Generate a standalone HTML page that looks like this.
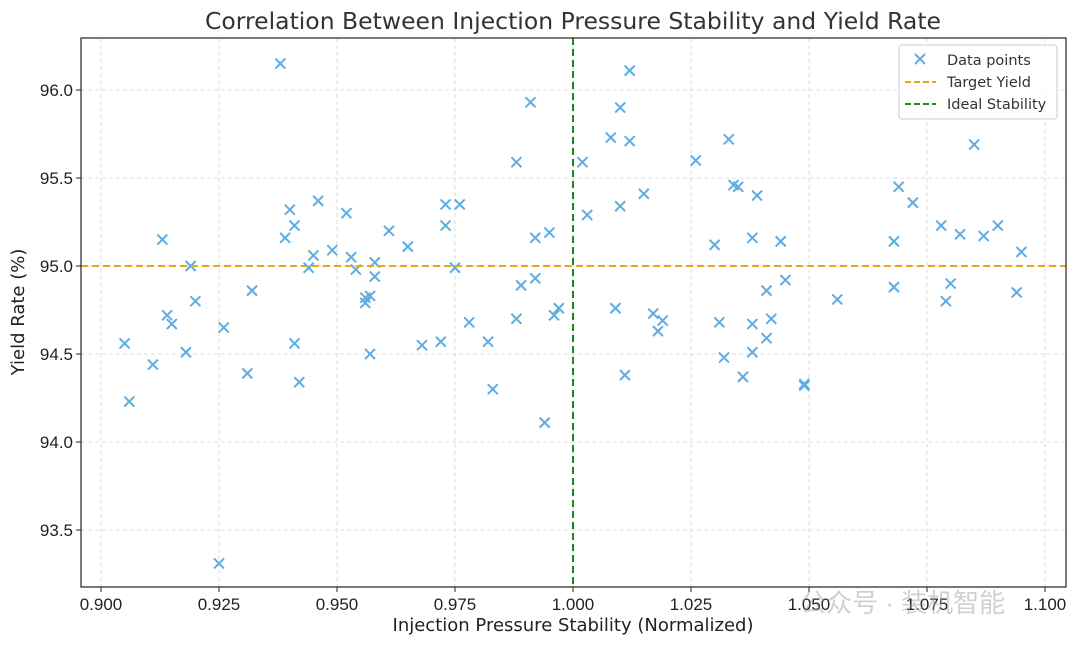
<!DOCTYPE html>
<html><head><meta charset="utf-8"><style>
body{margin:0;background:#fff;}
svg{display:block;font-family:"Liberation Sans","DejaVu Sans","Noto Sans CJK SC",sans-serif;}
.dv{font-family:"DejaVu Sans","Noto Sans CJK SC",sans-serif;}
</style></head><body>
<svg id="chart" width="1080" height="646" viewBox="0 0 1080 646">
<rect x="0" y="0" width="1080" height="646" fill="#fff"/>
<text class="dv" x="573" y="29" text-anchor="middle" font-size="23.5" fill="#333">Correlation Between Injection Pressure Stability and Yield Rate</text>
<g id="grid"></g><g id="ticks"></g><g id="marks"></g><g id="refs"></g>
<rect x="81" y="38" width="985" height="549" fill="none" stroke="#222" stroke-width="1.2"/>
<text class="dv" x="573" y="631" text-anchor="middle" font-size="18" fill="#222">Injection Pressure Stability (Normalized)</text>
<text class="dv" transform="translate(24,312) rotate(-90)" text-anchor="middle" font-size="18" fill="#222">Yield Rate (%)</text>
<text x="800" y="612" font-size="26" fill="#999" opacity="0.45">公众号 · 装机智能</text>
<g class="dv">
<rect x="899" y="45" width="158" height="74" rx="3" fill="#fff" fill-opacity="0.85" stroke="#ccc"/>
<g><path d="M915 54l10 10M925 54l-10 10" stroke="#5DADE2" stroke-width="2"/><text x="947" y="65" font-size="14.5" fill="#333">Data points</text></g>
<g><line x1="905" y1="82" x2="936" y2="82" stroke="#E6A817" stroke-width="2" stroke-dasharray="6,3"/><text x="947" y="87" font-size="14.5" fill="#333">Target Yield</text></g>
<g><line x1="905" y1="104" x2="936" y2="104" stroke="#1a8a1a" stroke-width="2" stroke-dasharray="6,3"/><text x="947" y="109" font-size="14.5" fill="#333">Ideal Stability</text></g>
</g>
</svg>
<script>
const xTicks=[0.900,0.925,0.950,0.975,1.000,1.025,1.050,1.075,1.100];
const yTicks=[93.5,94.0,94.5,95.0,95.5,96.0];
const targetYield=95.0;
const idealStability=1.0;
const xs=[0.905,0.906,0.911,0.913,0.914,0.915,0.918,0.919,0.920,0.926,0.925,0.931,0.932,0.938,0.939,0.940,0.941,0.941,0.942,0.944,0.945,0.946,0.949,0.952,0.953,0.954,0.956,0.956,0.957,0.957,0.958,0.958,0.961,0.965,0.968,0.972,0.973,0.973,0.975,0.976,0.978,0.982,0.983,0.988,0.988,0.989,0.991,0.992,0.992,0.994,0.995,0.996,0.997,1.002,1.003,1.008,1.009,1.010,1.010,1.011,1.012,1.012,1.015,1.017,1.018,1.019,1.026,1.030,1.031,1.032,1.033,1.034,1.035,1.036,1.038,1.038,1.038,1.039,1.041,1.041,1.042,1.044,1.045,1.049,1.049,1.056,1.068,1.068,1.069,1.072,1.078,1.079,1.080,1.082,1.085,1.087,1.090,1.094,1.095];
const ys=[94.56,94.23,94.44,95.15,94.72,94.67,94.51,95.00,94.80,94.65,93.31,94.39,94.86,96.15,95.16,95.32,94.56,95.23,94.34,94.99,95.06,95.37,95.09,95.30,95.05,94.98,94.79,94.82,94.83,94.50,95.02,94.94,95.20,95.11,94.55,94.57,95.35,95.23,94.99,95.35,94.68,94.57,94.30,95.59,94.70,94.89,95.93,95.16,94.93,94.11,95.19,94.72,94.76,95.59,95.29,95.73,94.76,95.90,95.34,94.38,95.71,96.11,95.41,94.73,94.63,94.69,95.60,95.12,94.68,94.48,95.72,95.46,95.45,94.37,95.16,94.67,94.51,95.40,94.86,94.59,94.70,95.14,94.92,94.33,94.32,94.81,94.88,95.14,95.45,95.36,95.23,94.80,94.90,95.18,95.69,95.17,95.23,94.85,95.08];
const NS='http://www.w3.org/2000/svg';
function sx(v){return 101+(v-0.9)*4720;}
function sy(v){return 90+(96-v)*176;}
function mk(t,a,p){const e=document.createElementNS(NS,t);for(const k in a)e.setAttribute(k,a[k]);p.appendChild(e);return e;}
const grid=document.getElementById('grid'),ticks=document.getElementById('ticks'),marks=document.getElementById('marks'),refs=document.getElementById('refs');
xTicks.forEach(v=>{const x=sx(v);
 const g=mk('line',{x1:x,y1:38,x2:x,y2:587,stroke:'#ddd','stroke-dasharray':'4,3','stroke-width':1},grid);
 
 
 mk('line',{x1:x,y1:587,x2:x,y2:592,stroke:'#222'},ticks);
 const t=mk('text',{x:x,y:610,'text-anchor':'middle','font-size':17,fill:'#222'},ticks);t.textContent=v.toFixed(3);
 
 
});
yTicks.forEach(v=>{const y=sy(v);
 const g=mk('line',{x1:81,y1:y,x2:1066,y2:y,stroke:'#ddd','stroke-dasharray':'4,3','stroke-width':1},grid);
 
 
 mk('line',{x1:76,y1:y,x2:81,y2:y,stroke:'#222'},ticks);
 const t=mk('text',{x:73,y:y+6,'text-anchor':'end','font-size':17,fill:'#222'},ticks);t.textContent=v.toFixed(1);
 
 
});
xs.forEach((v,i)=>{const x=sx(v),y=sy(ys[i]),r=5;
 const p=mk('path',{d:`M${x-r} ${y-r}L${x+r} ${y+r}M${x+r} ${y-r}L${x-r} ${y+r}`,stroke:'#5DADE2','stroke-width':2},marks);
 
 
});
const h=mk('line',{x1:81,x2:1066,y1:sy(targetYield),y2:sy(targetYield),stroke:'#E6A817','stroke-width':2,'stroke-dasharray':'7,4'},refs);


const vl=mk('line',{x1:sx(idealStability),x2:sx(idealStability),y1:38,y2:587,stroke:'#1a8a1a','stroke-width':2,'stroke-dasharray':'7,4'},refs);


</script>
</body></html>
